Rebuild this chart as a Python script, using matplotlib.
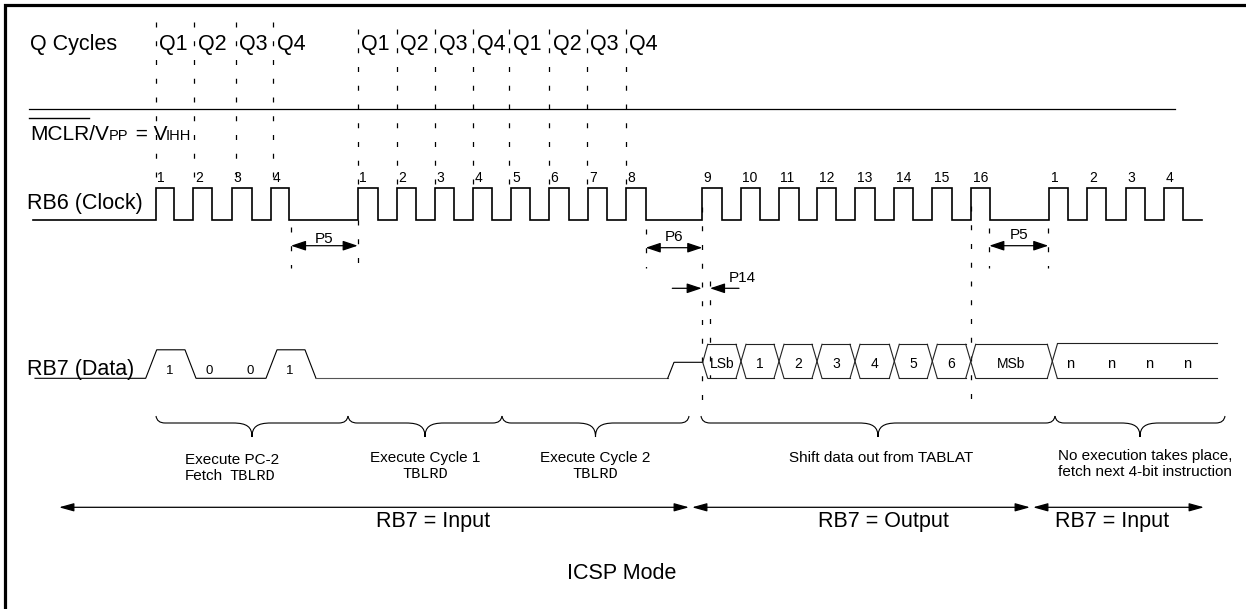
import matplotlib.pyplot as plt
from matplotlib.path import Path
from matplotlib.patches import PathPatch

plt.rcParams['font.family'] = ['Liberation Sans', 'DejaVu Sans']

# ---- data (pixel units, y down) ----
# RB6 clock: rising / falling edges per burst
clk_rise = [[155.7, 193.3, 232.3, 270.7],
            [357.7, 396.7, 435.3, 473.3, 511.0, 548.7, 587.7, 625.7],
            [702.3, 740.7, 778.7, 817.3, 855.3, 894.3, 932.3, 971.0],
            [1049.3, 1087.3, 1126.0, 1164.3]]
clk_fall = [[174.0, 212.3, 251.7, 289.3],
            [377.7, 415.7, 454.3, 492.3, 529.7, 568.7, 606.7, 645.7],
            [721.7, 759.7, 798.7, 836.3, 875.3, 913.3, 951.7, 990.3],
            [1068.3, 1106.3, 1145.0, 1183.3]]
clk_labels = [['1', '2', '3', '4'],
              ['1', '2', '3', '4', '5', '6', '7', '8'],
              ['9', '10', '11', '12', '13', '14', '15', '16'],
              ['1', '2', '3', '4']]
clk_start, clk_end = 33.3, 1201.7

# Q cycle markers
q_x = [155.7, 194.3, 235.7, 273.3,
       357.7, 396.7, 435.0, 473.3, 509.3, 549.3, 586.7, 625.7]
q_names = ['Q1', 'Q2', 'Q3', 'Q4'] * 3

# RB7 input bits (4-bit command 1001)
in_bits = [1, 0, 0, 1]
in_cells = [145.7, 185.0, 225.5, 266.0, 305.0]
data_start, data_low_end, data_mid_end = 35.0, 667.7, 702.7

# RB7 output bus
bus_edges = [702.7, 741.0, 779.0, 817.0, 855.0, 894.3, 932.3, 970.7, 1052.3]
bus_labels = ['LSb', '1', '2', '3', '4', '5', '6', 'MSb']
n_x = [1070.0, 1110.7, 1149.3, 1186.7]
bus_end = 1217.0

# timing parameters
p_names = ['P5', 'P6', 'P5']
p_from = [291.0, 645.7, 989.3]
p_to = [357.7, 702.3, 1048.3]

# braces and their captions
brace_from = [156.0, 348.0, 502.0, 701.0, 1055.0]
brace_to = [348.0, 502.0, 689.0, 1055.0, 1225.0]

# RB7 direction
dir_from = [59.0, 692.0, 1033.0]
dir_to = [689.0, 1030.0, 1204.0]
dir_labels = ['RB7 = Input', 'RB7 = Output', 'RB7 = Input']
dir_text_x = [433.0, 883.0, 1112.0]

# ---- figure ----
fig = plt.figure(figsize=(12.46, 6.09), dpi=100)
ax = fig.add_axes([0, 0, 1, 1])
ax.set_xlim(0, 1246)
ax.set_ylim(609, 0)
ax.axis('off')

BIG = 15.5
dash = (0, (4, 11))

# frame (top and left visible)
ax.plot([5, 5, 1246], [609, 5, 5], color='k', lw=2.3, solid_joinstyle='miter')

# Q cycles row
ax.text(30, 50, 'Q Cycles', fontsize=BIG, va='baseline')
for i, (x, name) in enumerate(zip(q_x, q_names)):
    y0 = 22 if i < 4 else 29
    ax.plot([x, x], [y0, 186], color='k', lw=0.9, ls=dash)
    ax.text(x + 3.5, 50, name, fontsize=BIG, va='baseline')
ax.plot([29, 1175], [109, 109], color='k', lw=0.9)

# MCLR/VPP = VIHH
ax.text(30, 140, 'MCLR/V', fontsize=15, va='baseline')
ax.text(109, 140, 'PP', fontsize=10.5, va='baseline')
ax.text(129.5, 140, ' = V', fontsize=15, va='baseline')
ax.text(165.5, 140, 'IHH', fontsize=10.5, va='baseline')
ax.plot([29, 89], [118, 118], color='k', lw=1.0)

# RB6 clock
hi, lo = 188.3, 220.0
cx, cy = [clk_start], [lo]
for rises, falls, labels in zip(clk_rise, clk_fall, clk_labels):
    for r, f, lab in zip(rises, falls, labels):
        cx += [r, r, f, f]
        cy += [lo, hi, hi, lo]
        ax.text(r + 1.5, 182.5, lab, fontsize=10, va='baseline')
cx.append(clk_end)
cy.append(lo)
ax.plot(cx, cy, color='k', lw=1.2, solid_joinstyle='miter')
ax.text(27, 209.3, 'RB6 (Clock)', fontsize=BIG, va='baseline')

# extra dashed reference lines
ref_lines = [(357.7, 220, 268), (291.0, 227, 268), (645.7, 229, 268),
             (702.3, 207, 402), (710.0, 281, 378), (970.7, 206, 400),
             (989.3, 228, 268), (1048.3, 228, 268)]
for x, y0, y1 in ref_lines:
    ax.plot([x, x], [y0, y1], color='k', lw=0.9, ls=dash)

# P5 / P6 spans
p_y = [245.7, 247.7, 245.7]
p_ty = [242.7, 240.7, 239.0]
for name, a, b, y, ty in zip(p_names, p_from, p_to, p_y, p_ty):
    ax.annotate('', xy=(b, y), xytext=(a, y),
                arrowprops=dict(arrowstyle='<|-|>,head_length=0.9,head_width=0.3',
                                color='k', lw=0.9, shrinkA=0, shrinkB=0,
                                mutation_scale=10))
    ax.text((a + b) / 2, ty, name, fontsize=11, ha='center', va='baseline')

# P14
ax.annotate('', xy=(701.7, 288.3), xytext=(672.3, 288.3),
            arrowprops=dict(arrowstyle='-|>,head_length=0.9,head_width=0.3',
                            color='k', lw=0.9, shrinkA=0, shrinkB=0, mutation_scale=10))
ax.annotate('', xy=(710.0, 288.3), xytext=(739.0, 288.3),
            arrowprops=dict(arrowstyle='-|>,head_length=0.9,head_width=0.3',
                            color='k', lw=0.9, shrinkA=0, shrinkB=0, mutation_scale=10))
ax.text(728.3, 281.7, 'P14', fontsize=11, va='baseline')

# RB7 data: input bits
d_hi, d_lo, d_mid = 349.8, 378.3, 362.3
slope = 11.0
dx, dy = [data_start], [d_lo]
prev = 0
for i, b in enumerate(in_bits):
    x0 = in_cells[i]
    if b != prev:
        dx += [x0, x0 + slope]
        dy += [d_hi if prev else d_lo, d_hi if b else d_lo]
    prev = b
    ax.text((x0 + in_cells[i + 1]) / 2 + 4, 373.5, str(b), fontsize=9.5,
            ha='center', va='baseline')
x_end = in_cells[-1]
dx += [x_end, x_end + slope]
dy += [d_hi, d_lo]
ax.plot(dx, dy, color='k', lw=0.8)
# released line (lighter), then bus turnaround
ax.plot([x_end + slope, data_low_end], [d_lo, d_lo], color='#555555', lw=0.8)
ax.plot([data_low_end, data_low_end + 6.3, data_mid_end],
        [d_lo, d_mid, d_mid], color='k', lw=0.8)
ax.text(27, 375, 'RB7 (Data)', fontsize=BIG, va='baseline')

# RB7 output bus
b_hi, b_lo = 344.3, 378.3
h = 5.0
bus_col = '#222222'
e0 = bus_edges[0]
ax.plot([e0 + h, e0, e0 + h], [b_hi, d_mid, b_lo], color=bus_col, lw=0.8)
for i, lab in enumerate(bus_labels):
    a, b = bus_edges[i], bus_edges[i + 1]
    ax.plot([a + h, b - h], [b_hi, b_hi], color=bus_col, lw=0.8)
    ax.plot([a + h, b - h], [b_lo, b_lo], color=bus_col, lw=0.8)
    ax.text((a + b) / 2, 367.5, lab, fontsize=10, ha='center', va='baseline')
for e in bus_edges[1:]:
    ax.plot([e - h, e + h], [b_hi, b_lo], color=bus_col, lw=0.8)
    ax.plot([e - h, e + h], [b_lo, b_hi], color=bus_col, lw=0.8)
last = bus_edges[-1]
ax.plot([last + h, bus_end], [b_hi - 1, b_hi - 1], color=bus_col, lw=0.8)
ax.plot([last + h, bus_end], [b_lo - 0.5, b_lo - 0.5], color=bus_col, lw=0.8)
for x in n_x:
    ax.text(x, 367.5, 'n', fontsize=10.5, ha='center', va='baseline')


# braces
def brace(x0, x1, ytop=416.0, yl=423.0, ytip=437.0, r=9.0, w=19.0):
    xm = (x0 + x1) / 2
    verts = [(x0, ytop), (x0 + 1, yl), (x0 + r, yl),
             (xm - w, yl),
             (xm - 5, yl), (xm, yl + 4), (xm, ytip),
             (xm, yl + 4), (xm + 5, yl), (xm + w, yl),
             (x1 - r, yl),
             (x1 - 1, yl), (x1, ytop)]
    codes = [Path.MOVETO, Path.CURVE3, Path.CURVE3,
             Path.LINETO,
             Path.CURVE4, Path.CURVE4, Path.CURVE4,
             Path.CURVE4, Path.CURVE4, Path.CURVE4,
             Path.LINETO,
             Path.CURVE3, Path.CURVE3]
    ax.add_patch(PathPatch(Path(verts, codes), fill=False, ec='k', lw=0.8))
    return xm


mids = [brace(a, b) for a, b in zip(brace_from, brace_to)]

SMALL = 11
ax.text(185, 463.5, 'Execute PC-2', fontsize=SMALL, va='baseline')
ax.text(185, 479.5, 'Fetch', fontsize=SMALL, va='baseline')
ax.text(229, 479.5, 'TBLRD', fontsize=SMALL, va='baseline', family='Liberation Mono')
ax.text(mids[1], 462, 'Execute Cycle 1', fontsize=SMALL, ha='center', va='baseline')
ax.text(mids[1], 478, 'TBLRD', fontsize=SMALL, ha='center', va='baseline',
        family='Liberation Mono')
ax.text(mids[2], 462, 'Execute Cycle 2', fontsize=SMALL, ha='center', va='baseline')
ax.text(mids[2], 478, 'TBLRD', fontsize=SMALL, ha='center', va='baseline',
        family='Liberation Mono')
ax.text(mids[3] + 3, 461.7, 'Shift data out from TABLAT', fontsize=SMALL,
        ha='center', va='baseline')
ax.text(1145, 460, 'No execution takes place,', fontsize=SMALL, ha='center', va='baseline')
ax.text(1145, 475.5, 'fetch next 4-bit instruction', fontsize=SMALL, ha='center',
        va='baseline')

# RB7 direction arrows
for a, b, lab, tx in zip(dir_from, dir_to, dir_labels, dir_text_x):
    ax.annotate('', xy=(b, 507.3), xytext=(a, 507.3),
                arrowprops=dict(arrowstyle='<|-|>,head_length=0.9,head_width=0.25',
                                color='k', lw=0.9, shrinkA=0, shrinkB=0,
                                mutation_scale=10))
    ax.text(tx, 527.5, lab, fontsize=BIG, ha='center', va='baseline')

ax.text(622, 579, 'ICSP Mode', fontsize=BIG, ha='center', va='baseline')

fig.savefig('out.png', dpi=100)
